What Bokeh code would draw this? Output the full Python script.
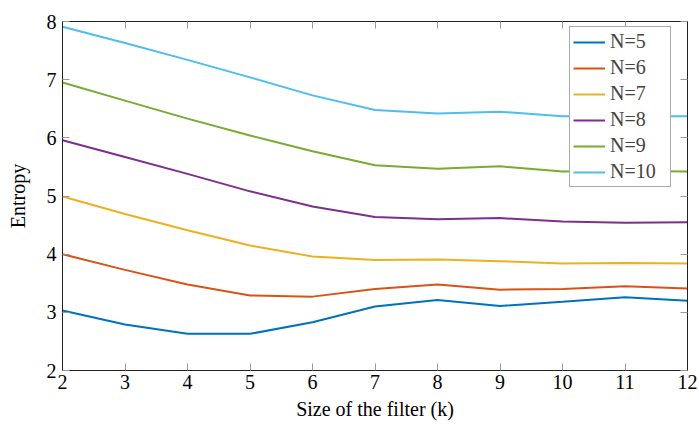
from bokeh.plotting import figure
from bokeh.models import LinearAxis, Legend, LegendItem, Range1d, FixedTicker
from bokeh.embed import file_html
from bokeh.resources import INLINE

k = [2, 3, 4, 5, 6, 7, 8, 9, 10, 11, 12]
n5 = [3.03, 2.79, 2.63, 2.63, 2.83, 3.10, 3.21, 3.11, 3.18, 3.26, 3.20]
n6 = [4.00, 3.73, 3.48, 3.29, 3.27, 3.40, 3.48, 3.39, 3.40, 3.45, 3.41]
n7 = [4.99, 4.69, 4.41, 4.15, 3.96, 3.90, 3.91, 3.88, 3.84, 3.85, 3.84]
n8 = [5.96, 5.67, 5.38, 5.08, 4.82, 4.64, 4.60, 4.62, 4.56, 4.54, 4.55]
n9 = [6.95, 6.64, 6.33, 6.04, 5.77, 5.53, 5.47, 5.51, 5.42, 5.43, 5.42]
n10 = [7.91, 7.63, 7.34, 7.04, 6.73, 6.48, 6.42, 6.45, 6.37, 6.37, 6.37]

series = [("N=5", n5, "#0072BD"), ("N=6", n6, "#D95319"), ("N=7", n7, "#EDB120"),
          ("N=8", n8, "#7E2F8E"), ("N=9", n9, "#77AC30"), ("N=10", n10, "#4DBEEE")]

x_ticks = [2, 3, 4, 5, 6, 7, 8, 9, 10, 11, 12]
y_ticks = [2, 3, 4, 5, 6, 7, 8]

FONT = "Liberation Serif"
FS = "20px"

p = figure(width=699, height=426, x_range=Range1d(2, 12), y_range=Range1d(2, 8),
           output_backend="svg", toolbar_location=None,
           min_border_left=62, min_border_right=12, min_border_top=21, min_border_bottom=56)
p.xgrid.visible = False
p.ygrid.visible = False
p.outline_line_color = "#222222"
p.outline_line_width = 1

items = []
for name, ys, col in series:
    r = p.line(k, ys, line_color=col, line_width=2)
    items.append(LegendItem(label=name, renderers=[r]))

def style_axis(ax, ticks, show_labels):
    ax.ticker = FixedTicker(ticks=ticks)
    ax.major_tick_in = 7
    ax.major_tick_out = 0
    ax.minor_tick_in = 0
    ax.minor_tick_out = 0
    ax.major_tick_line_color = "#999999"
    ax.axis_line_color = "#222222"
    ax.major_label_text_font = FONT
    ax.major_label_text_font_size = FS
    ax.major_label_text_color = "black" if show_labels else None
    ax.axis_label_text_font = FONT
    ax.axis_label_text_font_size = FS
    ax.axis_label_text_font_style = "normal"
    ax.axis_label_text_color = "black"

style_axis(p.xaxis[0], x_ticks, True)
style_axis(p.yaxis[0], y_ticks, True)
p.xaxis[0].axis_label = "Size of the filter (k)"
p.yaxis[0].axis_label = "Entropy"
p.xaxis[0].major_label_standoff = 4
p.yaxis[0].major_label_standoff = 6
p.xaxis[0].axis_label_standoff = 6
p.yaxis[0].axis_label_standoff = 15

top = LinearAxis()
right = LinearAxis()
style_axis(top, x_ticks, False)
style_axis(right, y_ticks, False)
top.major_label_text_font_size = "0px"
right.major_label_text_font_size = "0px"
p.add_layout(top, "above")
p.add_layout(right, "right")

legend = Legend(items=items, location=(507, 183), margin=0, padding=3, spacing=3,
                label_height=20, glyph_height=20, glyph_width=32, label_standoff=5,
                label_width=57,
                label_text_font=FONT, label_text_font_size=FS,
                border_line_color="#555555", border_line_width=1,
                background_fill_color="white", background_fill_alpha=1)
p.add_layout(legend)

open("out.html", "w").write(file_html(p, INLINE))
